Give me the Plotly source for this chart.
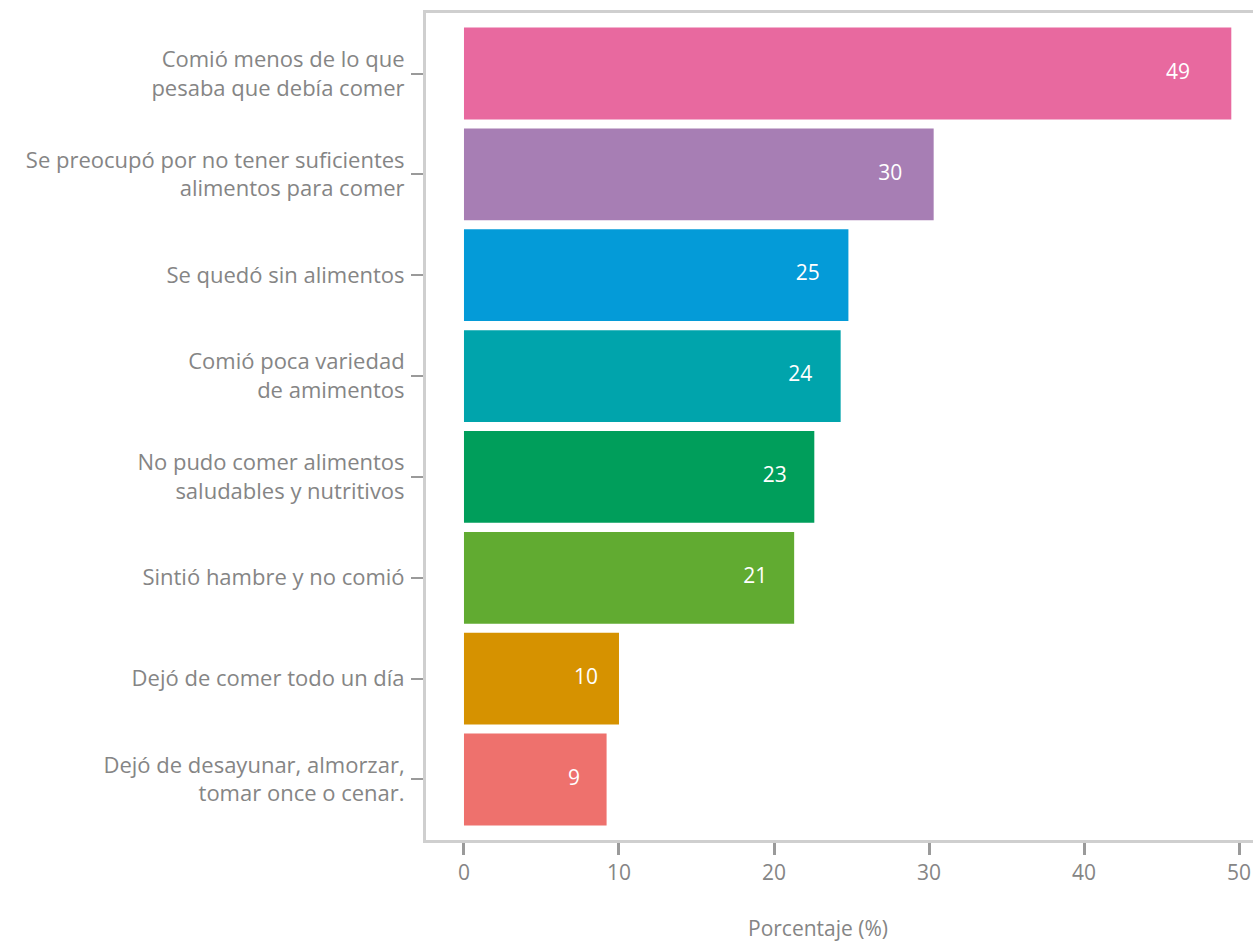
import plotly.graph_objects as go

categories = [
    "Comió menos de lo que<br>pesaba que debía comer",
    "Se preocupó por no tener suficientes<br>alimentos para comer",
    "Se quedó sin alimentos",
    "Comió poca variedad<br>de amimentos",
    "No pudo comer alimentos<br>saludables y nutritivos",
    "Sintió hambre y no comió",
    "Dejó de comer todo un día",
    "Dejó de desayunar, almorzar,<br>tomar once o cenar.",
]
values = [49.5, 30.3, 24.8, 24.3, 22.6, 21.3, 10.0, 9.2]
labels = ["49", "30", "25", "24", "23", "21", "10", "9"]
colors = ["#E8699F", "#A77EB4", "#049BD8", "#00A4AC", "#009E5B", "#61AB31", "#D69200", "#EE716D"]
x_ticks = [0, 10, 20, 30, 40, 50]

FONT = "Open Sans"
GRAY = "#858585"

fig = go.Figure()
fig.add_trace(go.Bar(
    y=categories, x=values, orientation="h",
    marker=dict(color=colors, line=dict(width=0)),
    hoverinfo="skip", showlegend=False,
))
fig.add_trace(go.Scatter(
    y=categories, x=[v * 0.967 - 1.8 for v in values],
    mode="text", text=labels,
    textposition="middle center",
    textfont=dict(family=FONT, size=21, color="white"),
    hoverinfo="skip", showlegend=False,
))

fig.update_layout(
    width=1253, height=946,
    margin=dict(l=426, r=0, t=13, b=106),
    paper_bgcolor="white", plot_bgcolor="white",
    bargap=0.09,
    font=dict(family=FONT, size=21, color=GRAY),
    xaxis=dict(
        range=[-2.45, 50.9],
        tickvals=x_ticks,
        showgrid=False, zeroline=False,
        showline=True, linecolor="#CFCFCF", linewidth=3, mirror=True,
        ticks="outside", ticklen=12, tickwidth=3, tickcolor="#9A9A9A",
        tickfont=dict(family=FONT, size=21, color=GRAY),
    ),
    yaxis=dict(
        type="category",
        categoryorder="array", categoryarray=categories,
        range=[7.6, -0.6],
        showgrid=False, zeroline=False,
        showline=True, linecolor="#CFCFCF", linewidth=3,
        ticks="outside", ticklen=12, tickwidth=2, tickcolor="#9A9A9A",
        tickfont=dict(family=FONT, size=22, color=GRAY),
        ticklabelstandoff=2,
    ),
    annotations=[dict(
        text="Porcentaje (%)", xref="paper", yref="paper",
        x=(818 - 426) / 827, y=-104 / 827, xanchor="center", yanchor="bottom",
        showarrow=False, font=dict(family=FONT, size=21, color=GRAY),
    )],
)

fig.write_html("out.html")
